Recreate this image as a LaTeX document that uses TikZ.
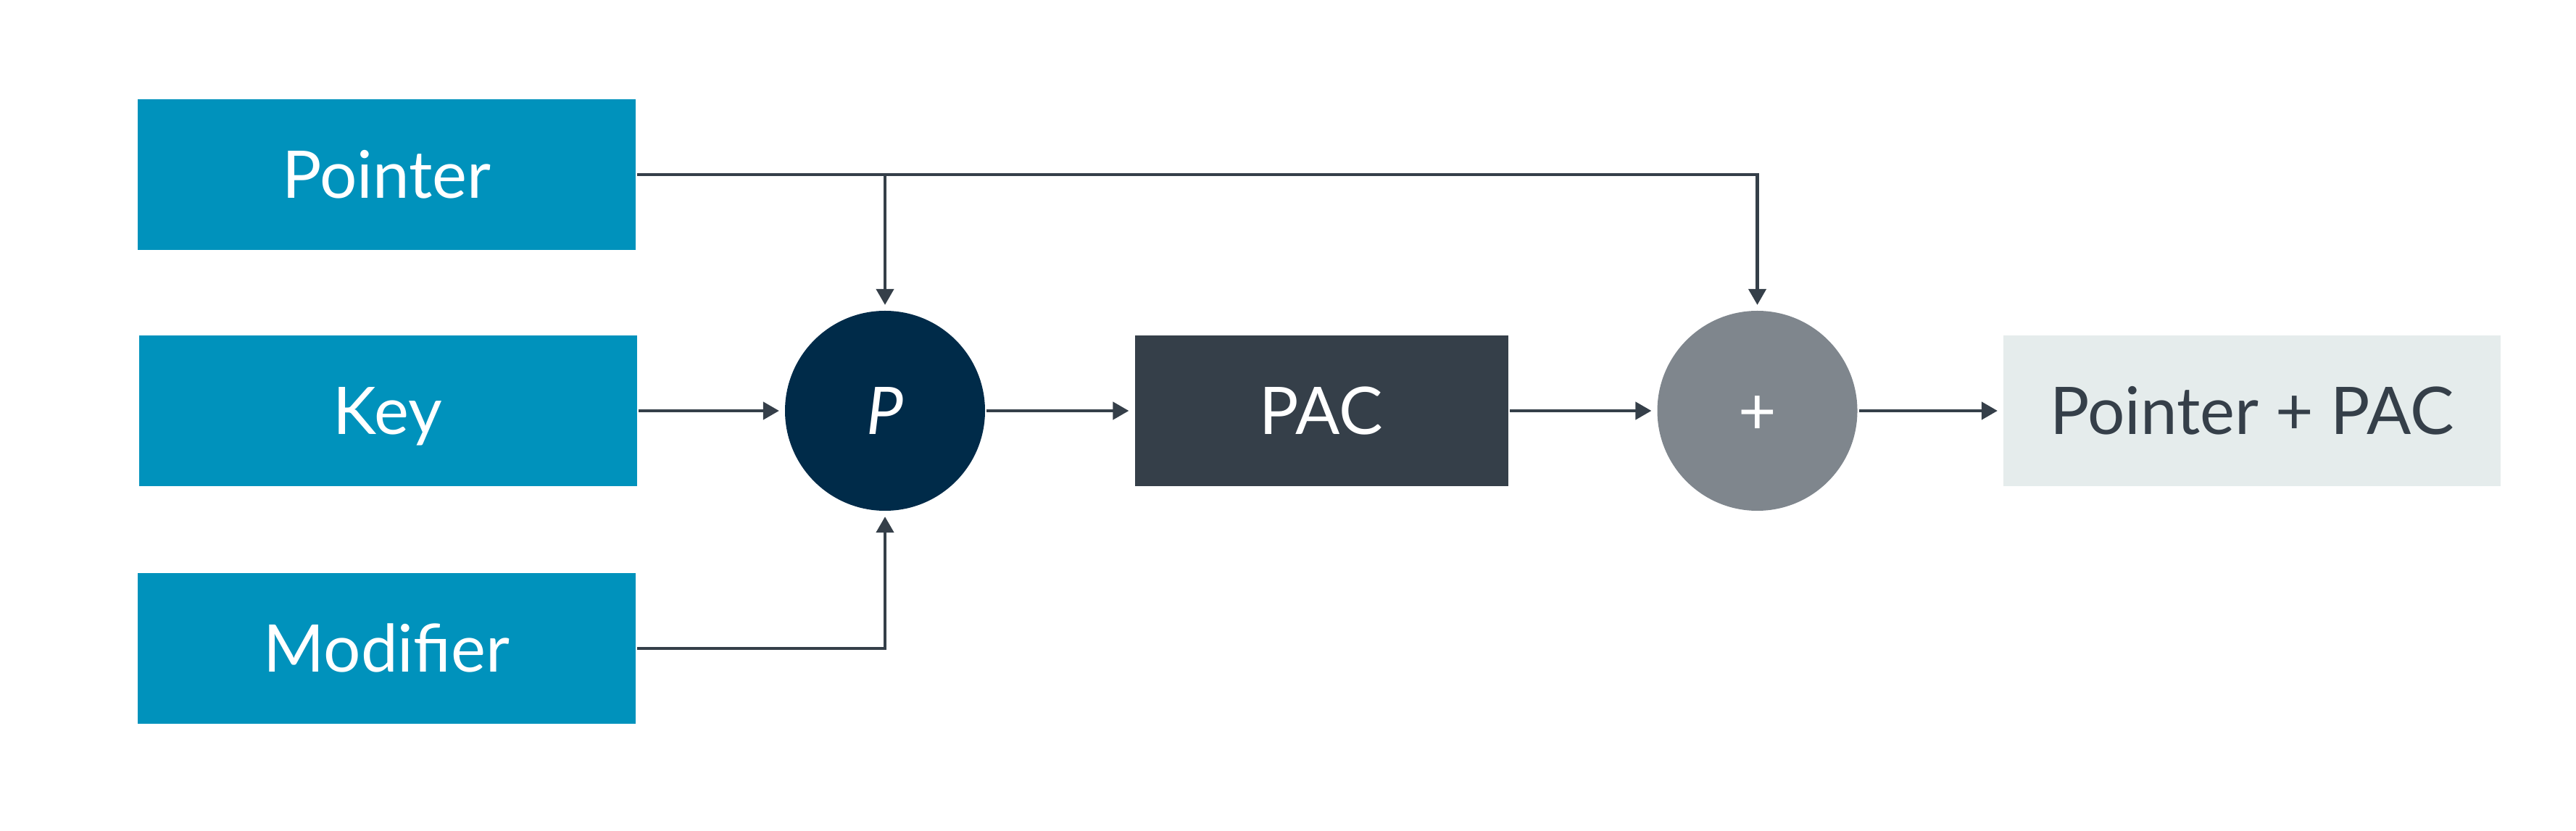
\documentclass[tikz,border=0pt]{standalone}
\usepackage{fontspec}
\setmainfont{Lato}
\usetikzlibrary{arrows.meta, positioning}
\definecolor{inblue}{HTML}{0092BC}
\definecolor{navy}{HTML}{002B49}
\definecolor{slate}{HTML}{353F49}
\definecolor{midgrey}{HTML}{7F868D}
\definecolor{paleback}{HTML}{E5ECEC}

\begin{document}
\begin{tikzpicture}[
    line width=1.2pt,
    every node/.style={font=\fontsize{25.8}{31}\selectfont,text height=18.5pt,text depth=0pt},
    >={Triangle[length=2.2mm,width=2.4mm]},
    inbox/.style={rectangle,fill=inblue,text=white,minimum width=6.87cm,minimum height=2.08cm,inner sep=0pt},
    opnode/.style={circle,minimum size=2.76cm,inner sep=0pt,text=white},
    link/.style={->,draw=slate,shorten >=0.6mm}
]
\useasboundingbox (0,0) rectangle (35.54,-11.47);

% Nodes placed manually in a grid
\node[inbox] (Pointer) at (5.335,-2.41) {Pointer};
\node[inbox] (Key) at (5.35,-5.67) {Key};
\node[inbox] (Modifier) at (5.335,-8.95) {Modifier};
\node[opnode,fill=navy] (P) at (12.21,-5.67) {\textit{P}};
\node[rectangle,fill=slate,text=white,minimum width=5.15cm,minimum height=2.08cm,inner sep=0pt] (PAC) at (18.23,-5.67) {PAC};
\node[opnode,fill=midgrey] (plus) at (24.245,-5.67) {+};
\node[rectangle,fill=paleback,text=slate,minimum width=6.86cm,minimum height=2.08cm,inner sep=0pt] (out) at (31.07,-5.67) {Pointer + PAC};
\coordinate (split) at (P |- Pointer.east);

% Arrows
\draw[link] (Pointer.east) -| (plus.north);
\draw[link] (split) -- (P.north);
\draw[link] (Key.east) -- (P.west);
\draw[link] (Modifier.east) -| (P.south);
\draw[link] (P.east) -- (PAC.west);
\draw[link] (PAC.east) -- (plus.west);
\draw[link] (plus.east) -- (out.west);
\end{tikzpicture}
\end{document}
